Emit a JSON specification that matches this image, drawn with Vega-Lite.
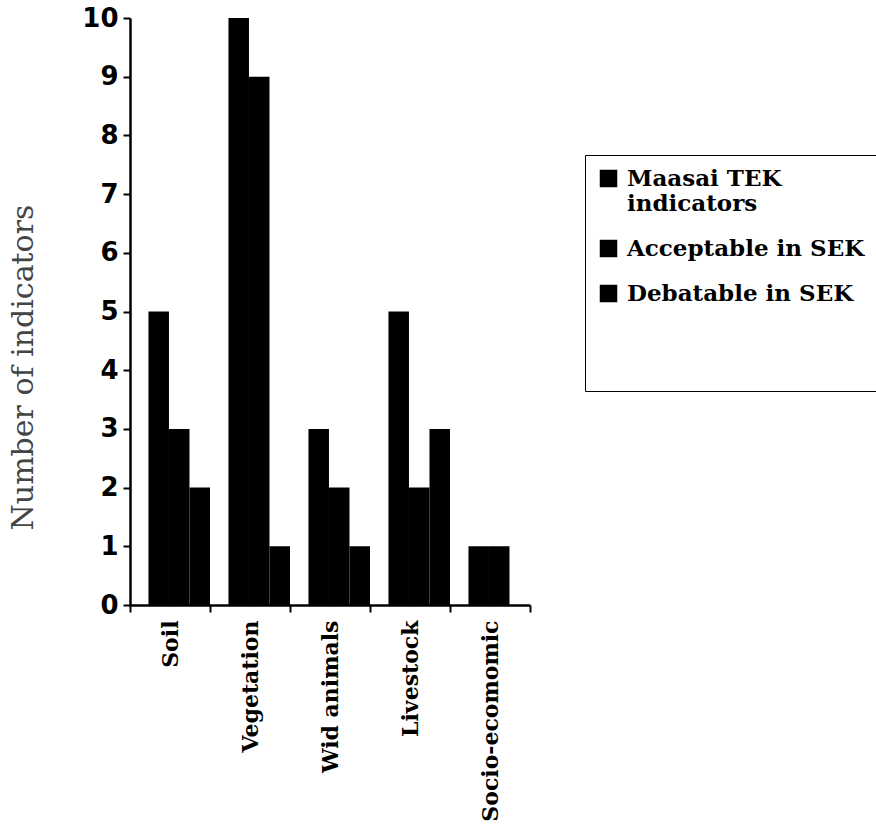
{
  "$schema": "https://vega.github.io/schema/vega-lite/v6.json",
  "autosize": "none",
  "width": 400,
  "height": 587,
  "padding": {"left": 130, "top": 18, "right": 346, "bottom": 220},
  "background": "white",
  "data": {
    "values": [
      {"category": "Soil", "series": "Maasai TEK indicators", "value": 5},
      {"category": "Soil", "series": "Acceptable in SEK", "value": 3},
      {"category": "Soil", "series": "Debatable in SEK", "value": 2},
      {"category": "Vegetation", "series": "Maasai TEK indicators", "value": 10},
      {"category": "Vegetation", "series": "Acceptable in SEK", "value": 9},
      {"category": "Vegetation", "series": "Debatable in SEK", "value": 1},
      {"category": "Wid animals", "series": "Maasai TEK indicators", "value": 3},
      {"category": "Wid animals", "series": "Acceptable in SEK", "value": 2},
      {"category": "Wid animals", "series": "Debatable in SEK", "value": 1},
      {"category": "Livestock", "series": "Maasai TEK indicators", "value": 5},
      {"category": "Livestock", "series": "Acceptable in SEK", "value": 2},
      {"category": "Livestock", "series": "Debatable in SEK", "value": 3},
      {"category": "Socio-ecomomic", "series": "Maasai TEK indicators", "value": 1},
      {"category": "Socio-ecomomic", "series": "Acceptable in SEK", "value": 1},
      {"category": "Socio-ecomomic", "series": "Debatable in SEK", "value": 0}
    ]
  },
  "mark": {"type": "bar", "color": "black"},
  "encoding": {
    "x": {
      "field": "category",
      "type": "nominal",
      "sort": null,
      "scale": {"paddingInner": 0, "paddingOuter": 0},
      "axis": {
        "title": null,
        "labelAngle": -90,
        "labelAlign": "right",
        "labelBaseline": "middle",
        "labelFont": "DejaVu Serif",
        "labelFontWeight": "bold",
        "labelFontSize": 22,
        "labelColor": "black",
        "labelLimit": 400,
        "labelPadding": 8,
        "tickBand": "extent",
        "tickColor": "black",
        "tickSize": 7,
        "tickWidth": 2,
        "domainColor": "black",
        "domainWidth": 2.5
      }
    },
    "xOffset": {
      "field": "series",
      "type": "nominal",
      "sort": ["Maasai TEK indicators", "Acceptable in SEK", "Debatable in SEK"],
      "scale": {"paddingInner": 0, "paddingOuter": 0.45, "align": 1}
    },
    "y": {
      "field": "value",
      "type": "quantitative",
      "scale": {"domain": [0, 10], "nice": false},
      "axis": {
        "title": "Number of indicators",
        "titleFont": "DejaVu Serif",
        "titleFontWeight": "normal",
        "titleFontSize": 30,
        "titleColor": "#444",
        "titleBaseline": "middle",
        "titleX": -107,
        "titleY": 349,
        "values": [0, 1, 2, 3, 4, 5, 6, 7, 8, 9, 10],
        "grid": false,
        "labelFont": "DejaVu Sans",
        "labelFontWeight": "bold",
        "labelFontSize": 26,
        "labelColor": "black",
        "labelPadding": 5,
        "tickColor": "black",
        "tickSize": 7,
        "tickWidth": 2,
        "domainColor": "black",
        "domainWidth": 2.5
      }
    },
    "color": {
      "field": "series",
      "type": "nominal",
      "sort": ["Maasai TEK indicators", "Acceptable in SEK", "Debatable in SEK"],
      "scale": {"range": ["black", "black", "black"]},
      "legend": {
        "title": " ",
        "titleOrient": "bottom",
        "titleFontSize": 22,
        "titlePadding": 52,
        "orient": "none",
        "legendX": 455,
        "legendY": 137,
        "symbolType": "square",
        "symbolSize": 256,
        "symbolFillColor": "black",
        "symbolStrokeColor": "black",
        "labelFont": "DejaVu Serif",
        "labelFontWeight": "bold",
        "labelFontSize": 23,
        "labelColor": "black",
        "labelLimit": 400,
        "labelOffset": 7,
        "rowPadding": 21,
        "padding": 12,
        "strokeColor": "black",
        "labelExpr": "datum.label == 'Maasai TEK indicators' ? ['Maasai TEK', 'indicators'] : datum.label"
      }
    }
  },
  "config": {"view": {"stroke": null}}
}
